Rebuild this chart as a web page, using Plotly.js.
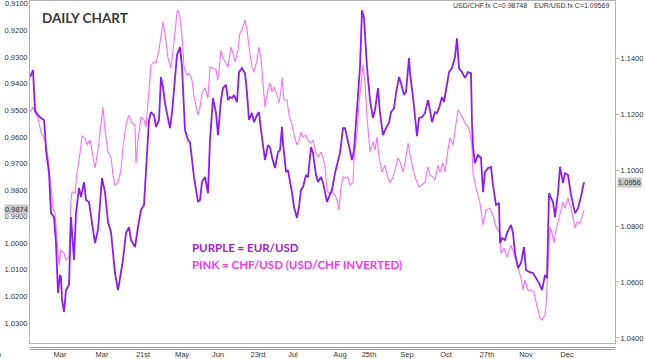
<!DOCTYPE html>
<html>
<head>
<meta charset="utf-8">
<script src="https://cdn.plot.ly/plotly-3.0.1.min.js"></script>
<style>html,body{margin:0;padding:0;background:#fff;}#chart{width:645px;height:359px;}</style>
</head>
<body>
<div id="chart"></div>
<script>
// Trading-day index along the x axis
const purpleDay = [0,3,5,8,11,14,15,16,19,21,24,26,28,30,31,32,34,36,39,41,44,46,49,51,54,56,59,61,65,68,72,75,78,81,83,85,88,91,93,96,99,101,105,108,111,114,116,119,121,124,126,129,131,133,135,138,140,142,145,147,150,152,155,158,160,162,164,168,170,172,175,178,180,183,186,188,191,193,196,198,200,202,204,207,209,212,215,217,219,222,224,227,229,231,233,235,238,240,242,245,248,250,252,253,256,258,262,264,267,269,271,273,276,278,281,283,286,288,291,293,295,297,299,302,305,308,310,313,315,317,319,322,324,327,330,332,334,337,340,343,345,348,350,353,356,359,361,364,366,369,371,374,376,379,380,383,385,387,389,392,395,398,400,402,405,407,409,412,414,416,419,422,425,427,429,432,435,438,441,442,443,445,448,451,453,455,458,461,463,466,469,470,472,475,477,481,483,485,488,491,494,496,499,503,506,509,512,515,517,519,521,523,525,528,530,533,535,538,541,545,548,551,554];
// EUR/USD (purple, right axis)
const eurusd = [1.1332,1.1357,1.1214,1.1196,1.1186,1.1179,1.1136,1.1071,1.0989,1.0846,1.0832,1.0739,1.0561,1.0625,1.0618,1.0536,1.0493,1.0571,1.0589,1.0832,1.0679,1.0846,1.0936,1.0904,1.0957,1.0893,1.0886,1.0832,1.0739,1.0786,1.0971,1.0921,1.0814,1.0779,1.0704,1.0632,1.0571,1.0643,1.0679,1.0775,1.0796,1.0750,1.0725,1.0796,1.0857,1.0875,1.1011,1.1179,1.1207,1.1196,1.1154,1.1179,1.1332,1.1296,1.1239,1.1189,1.1150,1.1204,1.1350,1.1411,1.1439,1.1368,1.1143,1.1107,1.1100,1.1025,1.0975,1.0886,1.0893,1.0957,1.0975,1.0918,1.1107,1.1257,1.1204,1.1125,1.1250,1.1293,1.1304,1.1250,1.1261,1.1257,1.1268,1.1243,1.1350,1.1364,1.1346,1.1275,1.1179,1.1204,1.1171,1.1196,1.1207,1.1143,1.1082,1.1036,1.1089,1.1082,1.1046,1.1007,1.1064,1.1071,1.1154,1.1096,1.0993,1.1000,1.0918,1.0868,1.0829,1.0868,1.0929,1.0939,1.0982,1.0975,1.1082,1.1061,1.0982,1.0957,1.0975,1.0954,1.0921,1.0886,1.0904,1.0929,1.0989,1.1036,1.1061,1.1150,1.1150,1.1118,1.1082,1.1036,1.1071,1.1214,1.1368,1.1571,1.1543,1.1368,1.1250,1.1186,1.1214,1.1293,1.1204,1.1125,1.1150,1.1168,1.1207,1.1221,1.1275,1.1332,1.1311,1.1268,1.1279,1.1400,1.1346,1.1261,1.1179,1.1121,1.1186,1.1189,1.1204,1.1250,1.1214,1.1171,1.1207,1.1204,1.1221,1.1261,1.1243,1.1293,1.1350,1.1364,1.1404,1.1471,1.1364,1.1350,1.1329,1.1350,1.1346,1.1168,1.1082,1.1025,1.1054,1.1043,1.0921,1.0993,1.1007,1.1011,1.0946,1.0875,1.0882,1.0739,1.0757,1.0750,1.0775,1.0804,1.0775,1.0704,1.0650,1.0668,1.0725,1.0643,1.0636,1.0632,1.0614,1.0596,1.0571,1.0625,1.0614,1.0918,1.0900,1.0886,1.0832,1.0918,1.1011,1.0954,1.0989,1.0982,1.0911,1.0846,1.0864,1.0904,1.09569];

const pinkDay = [0,3,5,8,11,13,15,18,21,23,25,27,29,31,34,36,39,41,42,45,47,50,52,55,57,60,62,65,68,71,73,75,78,81,83,85,88,91,93,96,99,102,105,106,108,111,114,116,119,121,124,126,129,131,133,135,138,141,143,145,147,148,150,152,154,157,159,162,164,168,170,172,175,178,180,183,186,188,191,193,196,198,201,203,205,208,210,212,215,217,219,222,224,227,229,231,233,235,238,240,242,244,247,249,251,252,254,257,259,262,264,267,269,271,273,276,278,281,283,286,288,291,293,295,297,299,302,305,307,309,311,313,316,318,320,323,324,327,329,331,333,335,337,340,343,345,347,349,352,355,357,360,363,365,368,370,373,375,378,380,383,385,389,392,395,398,400,403,405,408,410,413,415,418,420,423,425,428,430,433,435,438,440,442,443,446,450,453,456,460,463,466,470,471,474,477,481,484,487,491,493,495,498,501,504,506,510,512,515,516,518,520,522,524,526,529,531,533,535,538,541,545,547,550,552,554];
// USD/CHF (pink, left axis inverted => CHF/USD)
const usdchf = [0.9506,0.9488,0.9510,0.9529,0.9582,0.9600,0.9612,0.9676,0.9789,0.9868,0.9883,0.9999,1.0082,1.0026,1.0037,1.0063,1.0052,0.9837,0.9807,0.9811,0.9736,0.9661,0.9597,0.9604,0.9630,0.9612,0.9657,0.9717,0.9649,0.9563,0.9488,0.9574,0.9657,0.9676,0.9743,0.9781,0.9773,0.9725,0.9638,0.9555,0.9518,0.9548,0.9555,0.9698,0.9612,0.9525,0.9536,0.9563,0.9435,0.9330,0.9318,0.9322,0.9273,0.9224,0.9168,0.9209,0.9303,0.9341,0.9281,0.9209,0.9130,0.9123,0.9149,0.9224,0.9337,0.9367,0.9360,0.9386,0.9450,0.9518,0.9488,0.9435,0.9416,0.9454,0.9337,0.9341,0.9348,0.9386,0.9273,0.9303,0.9322,0.9337,0.9262,0.9284,0.9318,0.9273,0.9209,0.9198,0.9160,0.9198,0.9262,0.9337,0.9356,0.9311,0.9262,0.9303,0.9397,0.9488,0.9424,0.9397,0.9431,0.9412,0.9442,0.9472,0.9424,0.9378,0.9461,0.9461,0.9518,0.9555,0.9593,0.9630,0.9612,0.9582,0.9600,0.9593,0.9612,0.9623,0.9612,0.9661,0.9676,0.9657,0.9676,0.9713,0.9800,0.9811,0.9807,0.9819,0.9837,0.9875,0.9789,0.9751,0.9755,0.9751,0.9781,0.9770,0.9687,0.9585,0.9472,0.9393,0.9330,0.9397,0.9525,0.9657,0.9619,0.9649,0.9600,0.9676,0.9732,0.9706,0.9743,0.9773,0.9751,0.9725,0.9679,0.9694,0.9732,0.9698,0.9623,0.9668,0.9717,0.9751,0.9789,0.9781,0.9770,0.9713,0.9743,0.9751,0.9762,0.9706,0.9732,0.9698,0.9732,0.9649,0.9604,0.9630,0.9574,0.9499,0.9510,0.9529,0.9548,0.9563,0.9582,0.9638,0.9736,0.9792,0.9849,0.9931,0.9875,0.9868,0.9894,0.9939,0.9962,1.0037,1.0018,1.0052,1.0007,1.0037,1.0074,1.0131,1.0176,1.0138,1.0176,1.0176,1.0184,1.0221,1.0281,1.0289,1.0270,1.0240,1.0112,0.9939,0.9962,0.9999,0.9950,0.9905,0.9875,0.9845,0.9868,0.9830,0.9868,0.9943,0.9920,0.9924,0.9901,0.98748];

const tickDays = [30,72,113,152,188,228,263,310,339,377,416,457,496,537];
const tickLabels = ["Mar","Mar","21st","May","Jun","23rd","Jul","Aug","25th","Sep","Oct","27th","Nov","Dec"];
const leftTicks = [0.92,0.93,0.94,0.95,0.96,0.97,0.98,0.99,1.00,1.01,1.02,1.03];
const leftTopTick = 0.91;
const rightTicks = [1.04,1.06,1.08,1.10,1.12,1.14];

const lastChf = usdchf[usdchf.length-1];
const lastEur = eurusd[eurusd.length-1];
const trunc4 = v => (Math.floor(v*10000+1e-9)/10000).toFixed(4);

// plot geometry helpers (page px -> paper)
const W = 645, H = 359, ML = 30, MR = 30, MT = 1, MB = 16;
const PW = W-ML-MR, PH = H-MT-MB;
const px = x => (x-ML)/PW;
const py = y => (H-MB-y)/PH;

const tickFont = {family:'"Liberation Sans", Arial, sans-serif', size:7.5, color:'#333'};

const traces = [
  {x: pinkDay, y: usdchf, type:'scatter', mode:'lines', yaxis:'y',
   line:{color:'#ff6cff', width:1.1}, hoverinfo:'skip'},
  {x: purpleDay, y: eurusd, type:'scatter', mode:'lines', yaxis:'y2',
   line:{color:'#8c1cff', width:1.8}, hoverinfo:'skip'}
];

const layout = {
  width: W, height: H,
  margin:{l:ML, r:MR, t:MT, b:MB, pad:0},
  paper_bgcolor:'#fff', plot_bgcolor:'#fff',
  showlegend:false,
  font: tickFont,
  xaxis:{range:[0,585], tickvals:tickDays, ticktext:tickLabels, showgrid:false, zeroline:false,
    showline:true, mirror:true, linecolor:'#b4b4b4', linewidth:1, ticks:'', ticklabelstandoff:4, tickfont:tickFont},
  yaxis:{range:[1.0375,0.9089], tickvals:leftTicks, tickformat:'.4f', showgrid:false, zeroline:false,
    showline:true, linecolor:'#b4b4b4', ticks:'', tickfont:tickFont},
  yaxis2:{range:[1.0382,1.1604], overlaying:'y', side:'right', tickvals:rightTicks, tickformat:'.4f',
    showgrid:false, zeroline:false, showline:true, linecolor:'#b4b4b4', ticks:'outside', ticklen:3,
    tickcolor:'#b4b4b4', tickfont:tickFont},
  shapes:[
    {type:'line', xref:'paper', yref:'paper', x0:0, x1:1, y0:py(347.5), y1:py(347.5), line:{color:'#9a9a9a', width:1}},
    {type:'line', xref:'paper', yref:'paper', x0:0, x1:1, y0:py(349.5), y1:py(349.5), line:{color:'#9a9a9a', width:1}}
  ],
  annotations:[
    {xref:'paper', yref:'paper', x:px(40), y:py(18), xanchor:'left', yanchor:'middle', showarrow:false,
     text:'<b>DAILY CHART</b>', font:{family:'Lato, "Open Sans", sans-serif', size:13.5, color:'#3a3a3a'}},
    {xref:'paper', yref:'paper', x:px(190), y:py(247), xanchor:'left', yanchor:'middle', showarrow:false,
     text:'<b>PURPLE = EUR/USD</b>', font:{family:'Lato, "Open Sans", sans-serif', size:11.5, color:'#a020f0'}},
    {xref:'paper', yref:'paper', x:px(190), y:py(264), xanchor:'left', yanchor:'middle', showarrow:false,
     text:'<b>PINK = CHF/USD (USD/CHF INVERTED)</b>', font:{family:'Lato, "Open Sans", sans-serif', size:11.5, color:'#ff33ff'}},
    {xref:'paper', yref:'paper', x:px(451), y:py(6), xanchor:'left', yanchor:'middle', showarrow:false,
     text:'USD/CHF.fx C=' + lastChf.toFixed(5), font:{family:'"Liberation Sans", Arial, sans-serif', size:7, color:'#333'}},
    {xref:'paper', yref:'paper', x:px(532), y:py(6), xanchor:'left', yanchor:'middle', showarrow:false,
     text:'EUR/USD.fx C=' + lastEur.toFixed(5), font:{family:'"Liberation Sans", Arial, sans-serif', size:7, color:'#333'}},
    {xref:'paper', yref:'y', x:px(28.5), y:leftTopTick, xanchor:'right', yanchor:'middle', showarrow:false,
     text:leftTopTick.toFixed(4), borderpad:0, font:tickFont},
    {xref:'paper', yref:'y', x:px(28.5), y:lastChf, xanchor:'right', yanchor:'middle', showarrow:false,
     text:trunc4(lastChf), bgcolor:'#c8c8c8', borderpad:0, font:tickFont},
    {xref:'paper', yref:'y2', x:px(616.5), y:lastEur, xanchor:'left', yanchor:'middle', showarrow:false,
     text:trunc4(lastEur), bgcolor:'#c8c8c8', borderpad:0, font:tickFont},
    {xref:'paper', yref:'paper', x:px(3), y:py(354), xanchor:'right', yanchor:'middle', showarrow:false,
     text:'Feb', font:tickFont}
  ]
};

Plotly.newPlot('chart', traces, layout, {staticPlot:true, displayModeBar:false});
</script>
</body>
</html>
